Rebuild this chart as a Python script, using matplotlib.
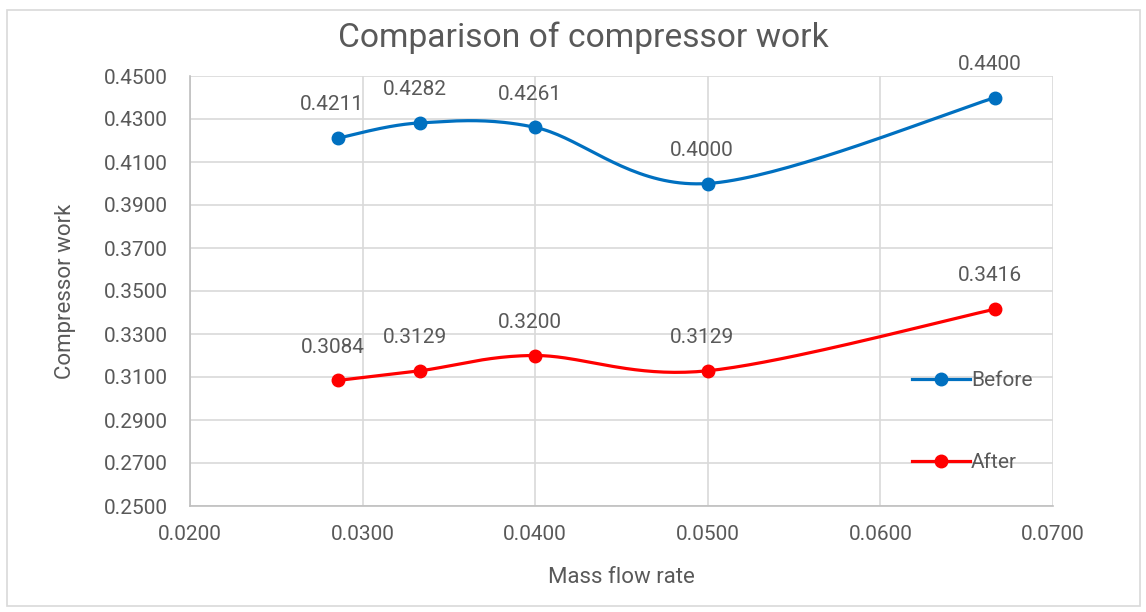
import numpy as np
import matplotlib
matplotlib.use("Agg")
import matplotlib.pyplot as plt
from matplotlib.patches import Rectangle
from matplotlib.lines import Line2D

mass_flow = [1/35, 1/30, 0.04, 0.05, 1/15]
before = [0.4211, 0.4282, 0.4261, 0.4000, 0.4400]
after = [0.3084, 0.3129, 0.3200, 0.3129, 0.3416]
series_names = ["Before", "After"]
colors = ["#0070C0", "#FF0000"]
yticks = [0.25, 0.27, 0.29, 0.31, 0.33, 0.35, 0.37, 0.39, 0.41, 0.43, 0.45]
xticks = [0.02, 0.03, 0.04, 0.05, 0.06, 0.07]

plt.rcParams['font.family'] = ['Roboto', 'DejaVu Sans']
TXT = "#595959"

def smooth(xs, ys, n=40):
    xs = np.asarray(xs, float); ys = np.asarray(ys, float)
    P = np.column_stack([xs, ys])
    out = []
    m = len(P)
    for i in range(m - 1):
        p0 = P[i - 1] if i > 0 else P[i]
        p1 = P[i]; p2 = P[i + 1]
        p3 = P[i + 2] if i + 2 < m else P[i + 1]
        c1 = p1 + (p2 - p0) / 6
        c2 = p2 - (p3 - p1) / 6
        t = np.linspace(0, 1, n)[:, None]
        seg = (1-t)**3*p1 + 3*(1-t)**2*t*c1 + 3*(1-t)*t**2*c2 + t**3*p2
        out.append(seg if i == 0 else seg[1:])
    return np.vstack(out)

fig = plt.figure(figsize=(11.46, 6.12), dpi=100)
ax = fig.add_axes([190/1146, 1-506/612, (1053-190)/1146, (506-76)/612])

fig.patches.append(Rectangle((7/1146, 1-606/612), (1140-7)/1146, (606-10)/612,
                             transform=fig.transFigure, fill=False,
                             edgecolor="#D9D9D9", linewidth=1.2))

handles = []
for ys, name, c in zip([before, after], series_names, colors):
    curve = smooth(mass_flow, ys)
    ax.plot(curve[:, 0], curve[:, 1], color=c, linewidth=2.3, zorder=3)
    ax.plot(mass_flow, ys, linestyle="none", marker="o", markersize=9,
            color=c, zorder=4)
    for x, y in zip(mass_flow, ys):
        ax.annotate(f"{y:.4f}", (x, y), xytext=(-4, 24), textcoords="offset points",
                    ha="center", va="center", fontsize=15, color=TXT)
    handles.append(Line2D([], [], color=c, linewidth=2.3, marker="o", markersize=9))

ax.set_xlim(0.02, 0.07)
ax.set_ylim(0.25, 0.45)
ax.set_xticks(xticks)
ax.set_yticks(yticks)
ax.set_xticklabels([f"{v:.4f}" for v in xticks])
ax.set_yticklabels([f"{v:.4f}" for v in yticks])
ax.tick_params(length=0, labelsize=15, labelcolor=TXT, pad=16)
ax.tick_params(axis='x', pad=14)
ax.grid(True, color="#D9D9D9", linewidth=1.2)
ax.set_axisbelow(True)
for s in ["top", "right"]:
    ax.spines[s].set_visible(False)
for s in ["left", "bottom"]:
    ax.spines[s].set_color("#BFBFBF")
    ax.spines[s].set_linewidth(1.2)

ax.set_xlabel("Mass flow rate", fontsize=16, color=TXT, labelpad=16)
ax.set_ylabel("Compressor work", fontsize=16, color=TXT, labelpad=20)
fig.text(583/1146, 1-38/612, "Comparison of compressor work", ha="center", va="center",
         fontsize=24.2, color=TXT)

leg = ax.legend(handles, series_names, loc="center left", bbox_to_anchor=(0.824, 0.196),
                frameon=False, fontsize=15, labelcolor=TXT, handlelength=2.8,
                handletextpad=0.05, labelspacing=3.0, borderpad=0)

fig.savefig("out.png", dpi=100)
